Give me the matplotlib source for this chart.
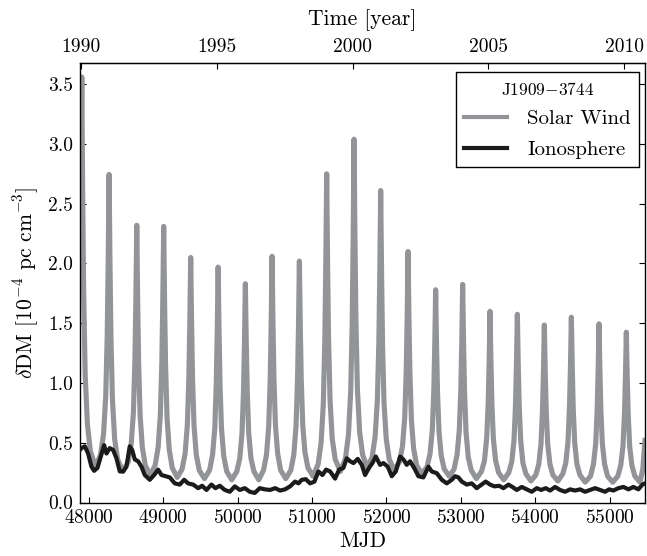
import matplotlib
matplotlib.use("Agg")
import matplotlib.pyplot as plt

plt.rcParams['font.family'] = 'serif'
plt.rcParams['font.serif'] = ['cmr10', 'DejaVu Serif']
plt.rcParams['mathtext.fontset'] = 'cm'
plt.rcParams['axes.formatter.use_mathtext'] = True

# ---- data ----
# Solar wind dDM (MJD, value)
sw_mjd = [47880, 47904, 47916, 47929, 47949, 47979, 48019, 48088,
          48156, 48196, 48226, 48246, 48259, 48271, 48283, 48296, 48316, 48346, 48386, 48457,
          48528, 48568, 48598, 48618, 48631, 48643, 48655, 48668, 48688, 48718, 48758, 48824,
          48890, 48930, 48960, 48980, 48993, 49005, 49017, 49030, 49050, 49080, 49120, 49187,
          49253, 49293, 49323, 49343, 49356, 49368, 49380, 49393, 49413, 49443, 49483, 49553,
          49622, 49662, 49692, 49712, 49725, 49737, 49749, 49762, 49782, 49812, 49852, 49920,
          49988, 50028, 50058, 50078, 50091, 50103, 50115, 50128, 50148, 50178, 50218, 50283,
          50347, 50387, 50417, 50437, 50450, 50462, 50474, 50487, 50507, 50537, 50577, 50646,
          50714, 50754, 50784, 50804, 50817, 50829, 50841, 50854, 50874, 50904, 50944, 51013,
          51081, 51121, 51151, 51171, 51184, 51196, 51208, 51221, 51241, 51271, 51311, 51380,
          51449, 51489, 51519, 51539, 51552, 51564, 51576, 51589, 51609, 51639, 51679, 51743,
          51807, 51847, 51877, 51897, 51910, 51922, 51934, 51947, 51967, 51997, 52037, 52106,
          52175, 52215, 52245, 52265, 52278, 52290, 52302, 52315, 52335, 52365, 52405, 52476,
          52546, 52586, 52616, 52636, 52649, 52661, 52673, 52686, 52706, 52736, 52776, 52843,
          52909, 52949, 52979, 52999, 53012, 53024, 53036, 53049, 53069, 53099, 53139, 53208,
          53277, 53317, 53347, 53367, 53380, 53392, 53404, 53417, 53437, 53467, 53507, 53576,
          53644, 53684, 53714, 53734, 53747, 53759, 53771, 53784, 53804, 53834, 53874, 53941,
          54007, 54047, 54077, 54097, 54110, 54122, 54134, 54147, 54167, 54197, 54237, 54304,
          54370, 54410, 54440, 54460, 54473, 54485, 54497, 54510, 54530, 54560, 54600, 54671,
          54742, 54782, 54812, 54832, 54845, 54857, 54869, 54882, 54902, 54932, 54972, 55041,
          55109, 55149, 55179, 55199, 55212, 55224, 55236, 55249, 55269, 55299, 55339, 55408,
          55445, 55475]
sw_val = [1.80, 3.56, 2.58, 1.77, 1.08, 0.66, 0.43, 0.30,
          0.40, 0.57, 0.89, 1.40, 2.01, 2.745, 2.00, 1.38, 0.86, 0.53, 0.36, 0.26,
          0.34, 0.49, 0.75, 1.19, 1.70, 2.32, 1.69, 1.17, 0.73, 0.46, 0.31, 0.23,
          0.31, 0.46, 0.73, 1.17, 1.69, 2.31, 1.68, 1.16, 0.71, 0.44, 0.29, 0.21,
          0.28, 0.41, 0.65, 1.04, 1.50, 2.05, 1.50, 1.03, 0.64, 0.40, 0.27, 0.20,
          0.27, 0.40, 0.62, 1.00, 1.44, 1.97, 1.44, 0.99, 0.62, 0.39, 0.26, 0.19,
          0.26, 0.37, 0.58, 0.93, 1.34, 1.83, 1.34, 0.93, 0.58, 0.37, 0.26, 0.19,
          0.27, 0.40, 0.64, 1.03, 1.50, 2.06, 1.50, 1.04, 0.65, 0.41, 0.27, 0.20,
          0.27, 0.40, 0.64, 1.02, 1.47, 2.02, 1.48, 1.03, 0.65, 0.42, 0.29, 0.22,
          0.32, 0.50, 0.83, 1.36, 1.99, 2.75, 2.00, 1.38, 0.86, 0.53, 0.36, 0.26,
          0.37, 0.57, 0.93, 1.51, 2.21, 3.04, 2.22, 1.53, 0.95, 0.59, 0.40, 0.29,
          0.38, 0.55, 0.85, 1.33, 1.91, 2.61, 1.91, 1.32, 0.83, 0.53, 0.36, 0.27,
          0.34, 0.47, 0.71, 1.09, 1.55, 2.10, 1.54, 1.08, 0.69, 0.45, 0.31, 0.24,
          0.30, 0.41, 0.61, 0.93, 1.32, 1.78, 1.31, 0.92, 0.59, 0.39, 0.28, 0.22,
          0.28, 0.40, 0.61, 0.94, 1.34, 1.825, 1.34, 0.93, 0.59, 0.38, 0.27, 0.20,
          0.26, 0.35, 0.54, 0.83, 1.18, 1.60, 1.18, 0.82, 0.53, 0.35, 0.25, 0.19,
          0.25, 0.34, 0.52, 0.81, 1.16, 1.575, 1.16, 0.81, 0.52, 0.33, 0.24, 0.18,
          0.23, 0.32, 0.49, 0.77, 1.09, 1.485, 1.09, 0.77, 0.49, 0.32, 0.23, 0.18,
          0.24, 0.33, 0.51, 0.80, 1.14, 1.55, 1.14, 0.79, 0.50, 0.32, 0.23, 0.17,
          0.22, 0.32, 0.49, 0.77, 1.10, 1.495, 1.10, 0.77, 0.49, 0.32, 0.22, 0.17,
          0.22, 0.31, 0.47, 0.74, 1.05, 1.425, 1.05, 0.74, 0.47, 0.31, 0.22, 0.17,
          0.28, 0.52]

# Ionosphere dDM (MJD, value)
io_mjd = [47880, 47900, 47945, 47989, 48034, 48070, 48115, 48160, 48204, 48236, 48280,
          48325, 48370, 48415, 48460, 48504, 48549, 48581, 48617, 48661, 48706, 48751,
          48818, 48876, 48930, 48975, 49029, 49087, 49154, 49221, 49280, 49333, 49401,
          49468, 49522, 49580, 49647, 49701, 49759, 49826, 49894, 49961, 50028, 50095,
          50162, 50229, 50297, 50364, 50435, 50503, 50570, 50637, 50704, 50771, 50816,
          50861, 50915, 50973, 51031, 51085, 51139, 51188, 51242, 51309, 51363, 51421,
          51466, 51511, 51556, 51614, 51668, 51712, 51766, 51811, 51856, 51914, 51959,
          52017, 52071, 52125, 52183, 52228, 52272, 52317, 52371, 52429, 52496, 52564,
          52608, 52676, 52743, 52810, 52877, 52922, 52967, 53012, 53079, 53146, 53213,
          53280, 53334, 53392, 53451, 53513, 53572, 53639, 53693, 53751, 53818, 53885,
          53953, 54020, 54078, 54141, 54199, 54266, 54333, 54401, 54468, 54535, 54602,
          54669, 54737, 54804, 54871, 54938, 54992, 55050, 55117, 55185, 55252, 55319,
          55386, 55440, 55475]
io_val = [0.44, 0.455, 0.47, 0.41, 0.30, 0.265, 0.29, 0.385, 0.48, 0.41, 0.455,
          0.44, 0.37, 0.26, 0.26, 0.30, 0.47, 0.44, 0.36, 0.345, 0.30, 0.23,
          0.19, 0.23, 0.275, 0.23, 0.22, 0.21, 0.16, 0.15, 0.19, 0.16, 0.15,
          0.12, 0.14, 0.105, 0.15, 0.12, 0.14, 0.105, 0.09, 0.135, 0.105, 0.12,
          0.09, 0.08, 0.12, 0.11, 0.105, 0.12, 0.10, 0.11, 0.135, 0.175, 0.16,
          0.19, 0.195, 0.16, 0.175, 0.26, 0.23, 0.275, 0.26, 0.20, 0.275, 0.29,
          0.37, 0.345, 0.33, 0.365, 0.315, 0.23, 0.29, 0.33, 0.385, 0.315, 0.33,
          0.30, 0.22, 0.26, 0.385, 0.36, 0.315, 0.345, 0.29, 0.22, 0.21, 0.30,
          0.26, 0.245, 0.19, 0.16, 0.19, 0.22, 0.21, 0.175, 0.15, 0.16, 0.12,
          0.15, 0.175, 0.15, 0.135, 0.14, 0.12, 0.15, 0.13, 0.105, 0.13, 0.11,
          0.09, 0.12, 0.105, 0.12, 0.10, 0.13, 0.105, 0.09, 0.11, 0.10, 0.11,
          0.09, 0.105, 0.12, 0.105, 0.09, 0.11, 0.10, 0.12, 0.13, 0.11, 0.13,
          0.11, 0.15, 0.16]

mjd_ticks = [48000, 49000, 50000, 51000, 52000, 53000, 54000, 55000]
year_ticks = [1990, 1995, 2000, 2005, 2010]
y_ticks = [0.0, 0.5, 1.0, 1.5, 2.0, 2.5, 3.0, 3.5]

MJD_1990 = 47892.0
DAYS_PER_YEAR = 365.25

fig = plt.figure(figsize=(6.47, 5.56), dpi=100)
ax = fig.add_axes([80 / 647, (556 - 502.5) / 556, 565 / 647, 439.8 / 556])

ax.plot(sw_mjd, sw_val, color='#929497', lw=3.7, label='Solar Wind', zorder=2)
ax.plot(io_mjd, io_val, color='#1c1a1b', lw=3.0, label='Ionosphere', zorder=3)

ax.set_xlim(47880, 55475)
ax.set_ylim(0, 3.68)
ax.set_xticks(mjd_ticks)
ax.set_yticks(y_ticks)
ax.set_yticklabels(['%.1f' % v for v in y_ticks])
ax.tick_params(axis='both', which='major', direction='in', length=4, width=0.8,
               labelsize=14, right=True, top=False, pad=5)
ax.set_xlabel('MJD', fontsize=15.5, labelpad=3)
ax.set_ylabel(r'$\delta$DM [10$^{-4}$ pc cm$^{-3}$]', fontsize=15.5, labelpad=5)

sec = ax.secondary_xaxis('top',
                         functions=(lambda m: 1990 + (m - MJD_1990) / DAYS_PER_YEAR,
                                    lambda y: MJD_1990 + (y - 1990) * DAYS_PER_YEAR))
sec.set_xticks(year_ticks)
sec.set_xticklabels([str(y) for y in year_ticks])
sec.tick_params(direction='in', length=4, width=0.8, labelsize=14, pad=5)
sec.set_xlabel('Time [year]', fontsize=15.5, labelpad=9)

for s in ax.spines.values():
    s.set_linewidth(1.0)

leg = ax.legend(loc='upper right', bbox_to_anchor=(0.99, 0.978), borderaxespad=0,
                fontsize=15, title=r'J1909$-$3744', title_fontsize=12.5,
                fancybox=False, framealpha=1, edgecolor='black', handlelength=2.05,
                handletextpad=1.0, borderpad=0.4, labelspacing=0.58)
leg.get_frame().set_linewidth(1.0)
for line in leg.get_lines():
    line.set_linewidth(3.0)

fig.savefig('out.png', dpi=100)
